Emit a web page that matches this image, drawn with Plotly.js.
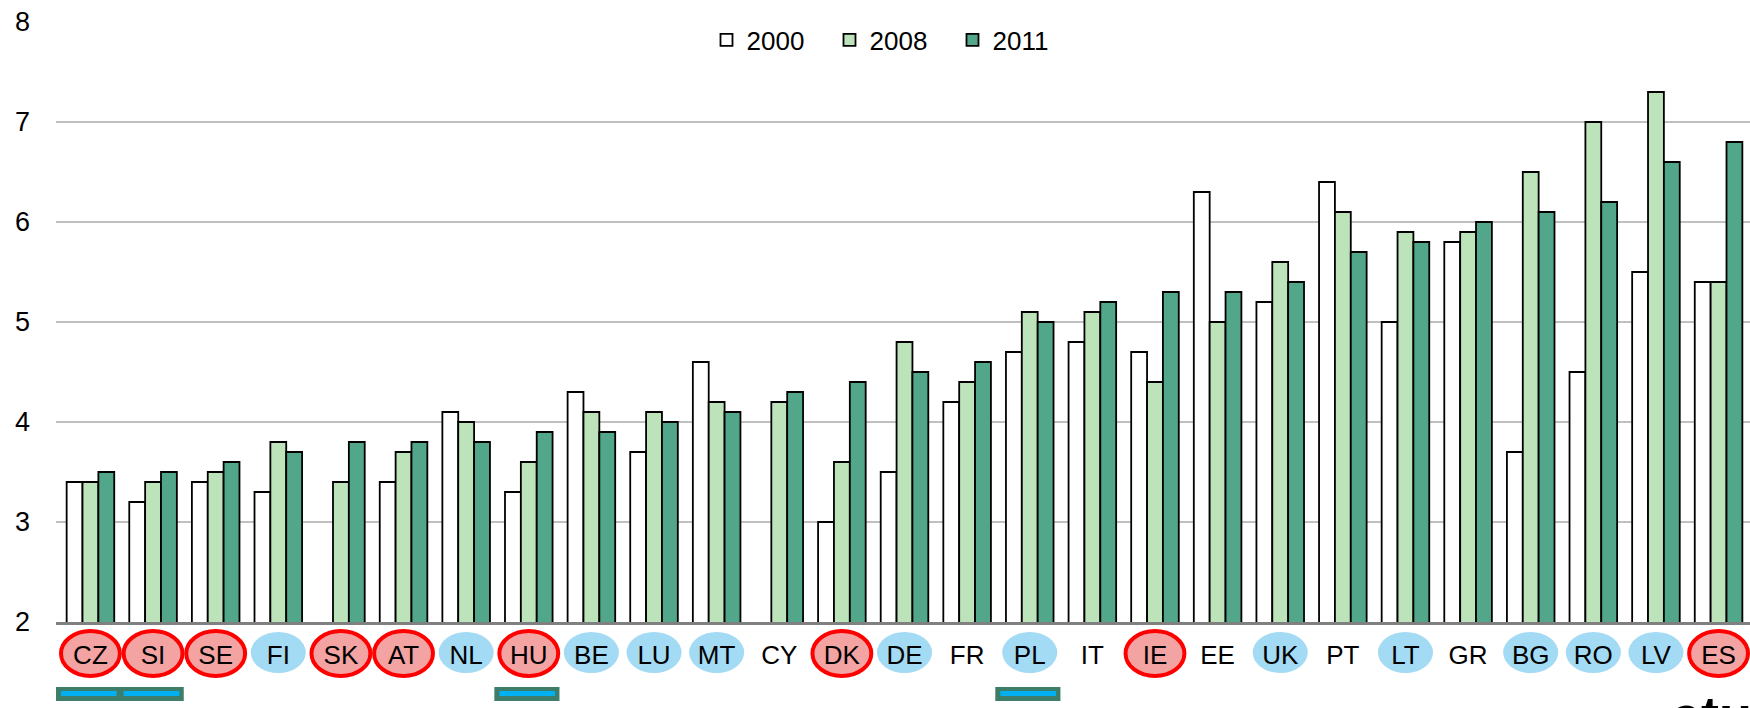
<!DOCTYPE html>
<html>
<head>
<meta charset="utf-8">
<script src="https://cdn.plot.ly/plotly-3.0.1.min.js"></script>
<style>
  html, body { margin: 0; padding: 0; background: #fff; }
  #chart { width: 1750px; height: 708px; }
</style>
</head>
<body>
<div id="chart"></div>
<script>
// countries, left to right
var countries = ["CZ", "SI", "SE", "FI", "SK", "AT", "NL", "HU", "BE", "LU", "MT", "CY", "DK", "DE",
  "FR", "PL", "IT", "IE", "EE", "UK", "PT", "LT", "GR", "BG", "RO", "LV", "ES"];

var y2000 = [3.4, 3.2, 3.4, 3.3, null, 3.4, 4.1, 3.3, 4.3, 3.7, 4.6, null, 3.0, 3.5,
  4.2, 4.7, 4.8, 4.7, 6.3, 5.2, 6.4, 5.0, 5.8, 3.7, 4.5, 5.5, 5.4];
var y2008 = [3.4, 3.4, 3.5, 3.8, 3.4, 3.7, 4.0, 3.6, 4.1, 4.1, 4.2, 4.2, 3.6, 4.8,
  4.4, 5.1, 5.1, 4.4, 5.0, 5.6, 6.1, 5.9, 5.9, 6.5, 7.0, 7.3, 5.4];
var y2011 = [3.5, 3.5, 3.6, 3.7, 3.8, 3.8, 3.8, 3.9, 3.9, 4.0, 4.1, 4.3, 4.4, 4.5,
  4.6, 5.0, 5.2, 5.3, 5.3, 5.4, 5.7, 5.8, 6.0, 6.1, 6.2, 6.6, 6.8];

// label highlighting
var redCountries = ["CZ", "SI", "SE", "SK", "AT", "HU", "DK", "IE", "ES"];
var blueCountries = ["FI", "NL", "BE", "LU", "MT", "DE", "PL", "UK", "LT", "BG", "RO", "LV"];
var barCountries = ["CZ", "SI", "HU", "PL"];

var edge = { color: "#000", width: 1.8 };

var data = [
  { x: countries, y: y2000, name: "2000", type: "bar", marker: { color: "#ffffff", line: edge } },
  { x: countries, y: y2008, name: "2008", type: "bar", marker: { color: "#bde3ba", line: edge } },
  { x: countries, y: y2011, name: "2011", type: "bar", marker: { color: "#52a68a", line: edge } }
];

// plot is 600px tall, paper y below 0 = pixels under the axis
function py(px) { return -px / 600; }

var shapes = [];
countries.forEach(function (c, i) {
  if (redCountries.indexOf(c) >= 0) {
    shapes.push({ type: "circle", layer: "below", xref: "x", yref: "paper",
      x0: i - 0.47, x1: i + 0.47, y0: py(9), y1: py(54),
      fillcolor: "#f4a3a3", line: { color: "#ff0000", width: 4 } });
  }
  if (blueCountries.indexOf(c) >= 0) {
    shapes.push({ type: "circle", layer: "below", xref: "x", yref: "paper",
      x0: i - 0.44, x1: i + 0.44, y0: py(10), y1: py(51),
      fillcolor: "#a3daf4", line: { width: 0 } });
  }
  if (barCountries.indexOf(c) >= 0) {
    shapes.push({ type: "rect", layer: "below", xref: "x", yref: "paper",
      x0: i - 0.55, x1: i + 0.49, y0: py(65), y1: py(79),
      fillcolor: "#3e7d69", line: { width: 0 } });
    shapes.push({ type: "rect", layer: "below", xref: "x", yref: "paper",
      x0: i - 0.47, x1: i + 0.42, y0: py(69), y1: py(74),
      fillcolor: "#00b0f0", line: { width: 0 } });
  }
});

var layout = {
  width: 1750,
  height: 708,
  margin: { l: 56, r: 0, t: 22, b: 86 },
  paper_bgcolor: "#fff",
  plot_bgcolor: "#fff",
  font: { family: "Liberation Sans, Arial, sans-serif", size: 26, color: "#000" },
  barmode: "group",
  bargap: 0.24,
  bargroupgap: 0,
  showlegend: true,
  legend: {
    orientation: "h",
    x: 0.384, xanchor: "left",
    y: 0.97, yanchor: "middle",
    font: { size: 26 },
    entrywidth: 78,
    bgcolor: "rgba(0,0,0,0)"
  },
  xaxis: {
    type: "category",
    showgrid: false,
    showline: true,
    linecolor: "#808080",
    linewidth: 3,
    ticks: "",
    ticklabelstandoff: 8,
    tickfont: { size: 26 },
    fixedrange: true
  },
  yaxis: {
    range: [2, 8],
    dtick: 1,
    showgrid: true,
    gridcolor: "#c0c0c0",
    gridwidth: 2,
    zeroline: false,
    showline: false,
    ticks: "",
    ticklabelstandoff: 25,
    tickfont: { size: 27 },
    fixedrange: true
  },
  shapes: shapes,
  annotations: [{
    xref: "paper", yref: "paper",
    x: 0.952, y: py(60.5), xanchor: "left", yanchor: "top",
    text: "<b>etui</b>", showarrow: false,
    font: { size: 54, color: "#000" }
  }]
};

Plotly.newPlot("chart", data, layout, { displayModeBar: false, staticPlot: true });
</script>
</body>
</html>
